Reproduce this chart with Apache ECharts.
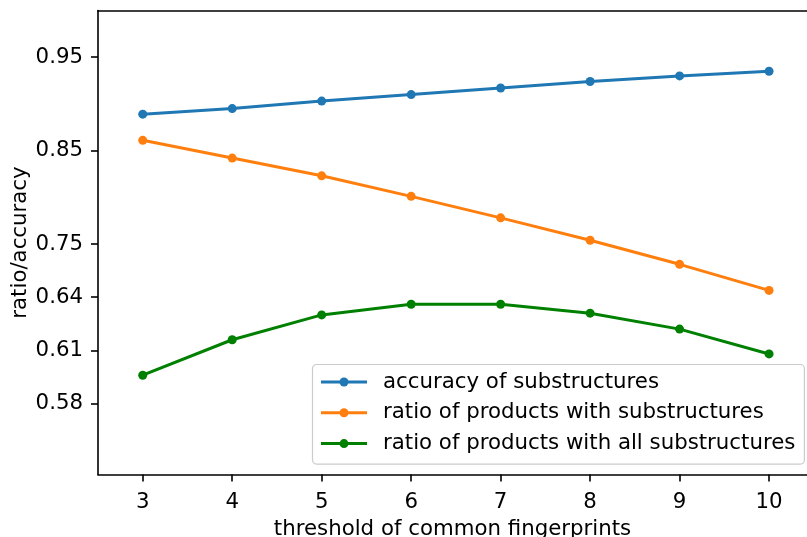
<!DOCTYPE html>
<html>
<head>
<meta charset="utf-8">
<script src="https://cdn.jsdelivr.net/npm/echarts@6/dist/echarts.min.js"></script>
<style>html,body{margin:0;padding:0;background:#fff}#c{width:807px;height:537px}</style>
</head>
<body>
<div id="c"></div>
<script>
// ---- data ----
var thresholds = [3, 4, 5, 6, 7, 8, 9, 10];
var accuracySub = [0.889, 0.895, 0.903, 0.910, 0.917, 0.924, 0.930, 0.935];
var ratioSub = [0.861, 0.842, 0.823, 0.801, 0.778, 0.754, 0.708, 0.654];
var ratioAll = [0.596, 0.616, 0.630, 0.636, 0.636, 0.631, 0.622, 0.608];
var seriesNames = ['accuracy of substructures', 'ratio of products with substructures', 'ratio of products with all substructures'];
var yTickLabels = [0.58, 0.61, 0.64, 0.75, 0.85, 0.95];
// positions of those ticks on the (piecewise) scale of the original figure
var yTickScale = [0, 1, 2, 3, 4.756, 6.512];

function warp(v) {
  var n = yTickLabels.length, i = 0;
  if (v <= yTickLabels[0]) i = 0;
  else if (v >= yTickLabels[n - 1]) i = n - 2;
  else { while (i < n - 2 && v > yTickLabels[i + 1]) i++; }
  var a = yTickLabels[i], b = yTickLabels[i + 1];
  return yTickScale[i] + (v - a) / (b - a) * (yTickScale[i + 1] - yTickScale[i]);
}
function labelFor(p) {
  var best = 0;
  for (var i = 0; i < yTickScale.length; i++) if (Math.abs(yTickScale[i] - p) < Math.abs(yTickScale[best] - p)) best = i;
  return yTickLabels[best].toFixed(2);
}

var colors = ['#1f77b4', '#ff7f0e', '#008000'];
var font = 'DejaVu Sans';
var fs = 21.3;
var values = [accuracySub, ratioSub, ratioAll];

var chart = echarts.init(document.getElementById('c'), null, {renderer: 'canvas'});
chart.setOption({
  animation: false,
  textStyle: {fontFamily: font},
  grid: {left: 98, top: 10.5, width: 709, height: 464, show: false, containLabel: false, outerBoundsMode: 'none'},
  xAxis: [{
    type: 'value', min: 2.5, max: 10.424, position: 'bottom',
    name: 'threshold of common fingerprints', nameLocation: 'middle', nameGap: 44,
    nameTextStyle: {fontSize: fs, color: '#000', fontFamily: font},
    axisLine: {show: true, onZero: false, lineStyle: {color: '#000', width: 1.6}},
    axisTick: {show: true, length: 7, lineStyle: {color: '#000', width: 1.6}, customValues: thresholds},
    axisLabel: {fontSize: fs, color: '#000', margin: 17, fontFamily: font, customValues: thresholds},
    splitLine: {show: false}
  }, {
    type: 'value', min: 2.5, max: 10.424, position: 'top',
    axisLine: {show: true, onZero: false, lineStyle: {color: '#000', width: 1.6}},
    axisTick: {show: false}, axisLabel: {show: false}, splitLine: {show: false}
  }],
  yAxis: {
    type: 'value', min: warp(0.54), max: warp(1.0),
    name: 'ratio/accuracy', nameLocation: 'middle', nameGap: 78, nameMoveOverlap: false,
    nameTextStyle: {fontSize: fs, color: '#000', fontFamily: font, verticalAlign: 'middle'},
    axisLine: {show: true, onZero: false, lineStyle: {color: '#000', width: 1.6}},
    axisTick: {show: true, length: 7, lineStyle: {color: '#000', width: 1.6}, customValues: yTickScale},
    axisLabel: {fontSize: fs, color: '#000', margin: 15, fontFamily: font, customValues: yTickScale, formatter: function (v) { return labelFor(v); }},
    splitLine: {show: false}
  },
  legend: {
    orient: 'vertical', left: 312.5, top: 364.5,
    data: seriesNames,
    itemWidth: 46, itemHeight: 11.25, itemGap: 9.8,
    padding: [7, 9, 10, 7],
    lineStyle: {width: 3},
    backgroundColor: 'rgba(255,255,255,0.8)', borderColor: '#cccccc', borderWidth: 1.2, borderRadius: 4,
    textStyle: {fontSize: fs, color: '#000', fontFamily: font, padding: [0, 0, 0, 11]}
  },
  series: values.map(function (vals, k) {
    return {
      name: seriesNames[k], type: 'line', xAxisIndex: 0,
      data: thresholds.map(function (x, i) { return [x, warp(vals[i])]; }),
      symbol: 'circle', symbolSize: 9, showSymbol: true,
      itemStyle: {color: colors[k]},
      lineStyle: {color: colors[k], width: 3},
      z: 2
    };
  })
});
</script>
</body>
</html>
